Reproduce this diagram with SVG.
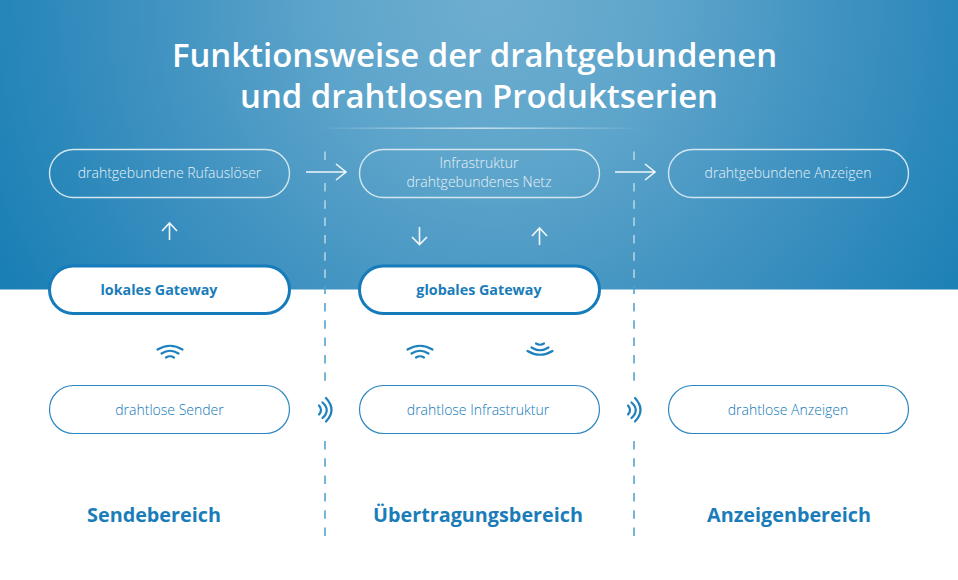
<svg xmlns="http://www.w3.org/2000/svg" width="958" height="580" viewBox="0 0 958 580">
<style>
text{font-family:"Open Sans","Noto Sans","Liberation Sans",sans-serif;text-anchor:middle}
.title{font-size:32.900px;font-weight:600;fill:#fff}
.w{font-size:14px;font-weight:300;fill:#e6f1f7}
.b{font-size:14px;font-weight:300;fill:#0f78b8}
.g{font-size:14.300px;font-weight:700;fill:#1a7dba}
.h{font-size:19.800px;font-weight:700;fill:#1a7dba}
.pw{fill:none;stroke:#d3e6f0;stroke-width:1.4}
.pb{fill:#fff;stroke:#2a86c0;stroke-width:1.2}
.pg{fill:#fff;stroke:#157bbb;stroke-width:3}
.ar{fill:none;stroke:#f0f6fa;stroke-width:1.6}
.wave{fill:none;stroke:#1e81be;stroke-width:2.2;stroke-linecap:round}
.dw{fill:none;stroke:#b9d8e8;stroke-width:1.5;stroke-dasharray:8.500 8.800}
.db{fill:none;stroke:#4a9dcb;stroke-width:1.5;stroke-dasharray:8.500 8.800}
</style>
<defs>
<radialGradient id="bg" gradientUnits="userSpaceOnUse" cx="495" cy="0" r="560">
<stop offset="0" stop-color="#6eaed0"/>
<stop offset="0.3" stop-color="#5ea5cb"/>
<stop offset="0.6" stop-color="#4193c1"/>
<stop offset="1" stop-color="#1a7fb5"/>
</radialGradient>
<linearGradient id="rule"><stop offset="0" stop-color="#fff" stop-opacity="0"/><stop offset="0.5" stop-color="#fff" stop-opacity="0.7"/><stop offset="1" stop-color="#fff" stop-opacity="0"/></linearGradient>
</defs>
<rect width="958" height="580" fill="#fff"/>
<rect width="958" height="289.500" fill="url(#bg)"/>
<rect x="318" y="127.500" width="324" height="1.400" fill="url(#rule)"/>
<text class="title" x="474.500" y="67">Funktionsweise der drahtgebundenen</text>
<text class="title" x="479" y="107.500">und drahtlosen Produktserien</text>
<g id="connectors">
<path class="dw" d="M325 151.500V160M325 183V287"/>
<path class="db" d="M325 303V381M325 441V538"/>
<path class="dw" d="M634 151.500V160M634 183V287"/>
<path class="db" d="M634 303V381M634 441V538"/>
<path class="db" d="M325 287V294M634 287V294" stroke-dasharray="none"/>
<path class="ar" d="M306 172H346M336 164L346 172L336 180"/>
<path class="ar" d="M615 172H655M645 164L655 172L645 180"/>
<path class="ar" d="M169.500 240V223M162 231L169.500 223L177 231"/>
<path class="ar" d="M419.500 227V244.500M412 237L419.500 244.500L427 237"/>
<path class="ar" d="M539.500 245V228M532 236L539.500 228L547 236"/>
<g id="wave-1" class="wave"><path d="M157.500 349.500Q170 342 182.500 349.500"/><path d="M161.500 353.500Q170 348 178.500 353.500"/><path d="M166 357.500Q170 355 174 357.500"/></g>
<g id="wave-2" class="wave"><path d="M407.500 349.500Q420 342 432.500 349.500"/><path d="M411.500 353.500Q420 348 428.500 353.500"/><path d="M416 357.500Q420 355 424 357.500"/></g>
<g id="wave-3" class="wave"><path d="M527.500 351Q540 358.500 552.500 351"/><path d="M531.500 347.500Q540 353 548.500 347.500"/><path d="M536 343.500Q540 346 544 343.500"/></g>
<g id="wave-4" class="wave"><path d="M326 398Q337 410 326 421.500"/><path d="M322.500 402.500Q331 410 322.500 418"/><path d="M319 405.500Q323 410 319 414.500"/></g>
<g id="wave-5" class="wave"><path d="M635 398Q646 410 635 421.500"/><path d="M631.500 402.500Q640 410 631.500 418"/><path d="M628 405.500Q632 410 628 414.500"/></g>
</g>
<g id="node-rufausloeser"><rect class="pw" x="49.500" y="149.500" width="240" height="48" rx="24"/><text class="w" x="169.500" y="178">drahtgebundene Rufauslöser</text></g>
<g id="node-infrastruktur-netz"><rect class="pw" x="359.500" y="149.500" width="240" height="48" rx="24"/><text class="w" x="479" y="168">Infrastruktur</text><text class="w" x="479" y="187">drahtgebundenes Netz</text></g>
<g id="node-anzeigen-draht"><rect class="pw" x="668.500" y="149.500" width="240" height="48" rx="24"/><text class="w" x="788" y="178">drahtgebundene Anzeigen</text></g>
<g id="node-lokales-gateway"><rect class="pg" x="49.500" y="266" width="240" height="47.500" rx="23.700"/><text class="g" x="159" y="295">lokales Gateway</text></g>
<g id="node-globales-gateway"><rect class="pg" x="359.500" y="266" width="240" height="47.500" rx="23.700"/><text class="g" x="479" y="295">globales Gateway</text></g>
<g id="node-sender"><rect class="pb" x="49.500" y="385.500" width="240" height="48" rx="24"/><text class="b" x="169.500" y="415">drahtlose Sender</text></g>
<g id="node-infrastruktur-funk"><rect class="pb" x="359.500" y="385.500" width="240" height="48" rx="24"/><text class="b" x="478" y="415">drahtlose Infrastruktur</text></g>
<g id="node-anzeigen-funk"><rect class="pb" x="668.500" y="385.500" width="240" height="48" rx="24"/><text class="b" x="788" y="415">drahtlose Anzeigen</text></g>
<text class="h" x="154" y="522">Sendebereich</text>
<text class="h" x="478" y="522">Übertragungsbereich</text>
<text class="h" x="789" y="522">Anzeigenbereich</text>
</svg>
